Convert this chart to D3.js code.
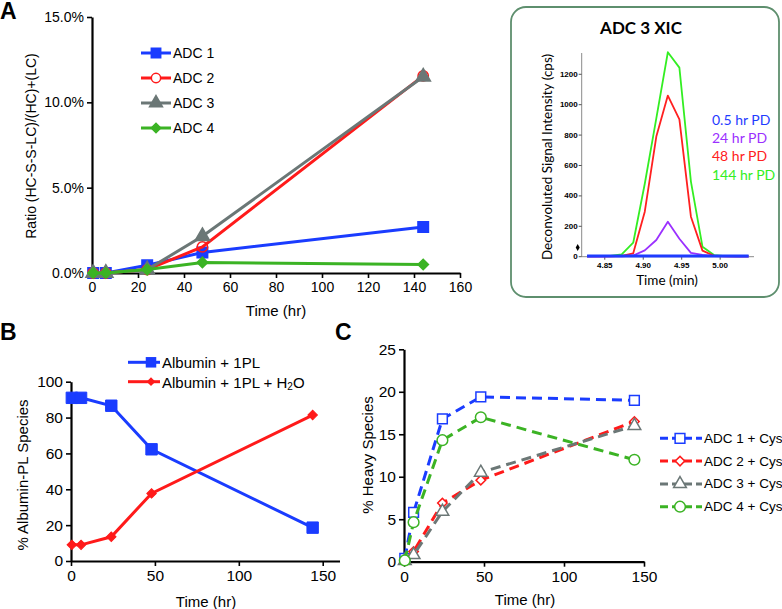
<!DOCTYPE html>
<html>
<head>
<meta charset="utf-8">
<script src="https://cdn.jsdelivr.net/npm/d3@7"></script>
<style>
html,body{margin:0;padding:0;background:#fff;}
svg{display:block;}
text{font-family:"Liberation Sans",Arial,sans-serif;fill:#000;}
</style>
</head>
<body>
<svg id="chart" width="782" height="609"></svg>
<script>
// ---------- Data ----------
// Panel A
const timesA = [0.5, 6, 24, 48, 144];
const adc1A = [0, 0, 0.0045, 0.012, 0.027];
const adc2A = [0, 0, 0.002, 0.0153, 0.1155];
const adc3A = [0, 0, 0.002, 0.0215, 0.115];
const adc4A = [0, 0, 0.002, 0.0062, 0.005];
const seriesNamesA = ["ADC 1", "ADC 2", "ADC 3", "ADC 4"];
const xTicksA = [0, 20, 40, 60, 80, 100, 120, 140, 160];
const yTicksA = [0, 0.05, 0.10, 0.15];

// Inset (ADC 3 XIC)
const xicTime = [4.827, 4.842, 4.857, 4.872, 4.887, 4.902, 4.917, 4.932, 4.947, 4.962, 4.977, 4.992, 5.007, 5.022, 5.037];
const pd05  = [4, 4, 4, 4, 4, 5, 5, 5, 5, 4, 4, 4, 4, 4, 4];
const pd24  = [1, 1, 2, 3, 8, 42, 110, 230, 118, 25, 12, 4, 2, 1, 1];
const pd48  = [2, 2, 3, 6, 22, 296, 790, 1060, 904, 263, 40, 6, 3, 2, 2];
const pd144 = [3, 4, 6, 15, 92, 480, 910, 1345, 1244, 494, 66, 11, 4, 3, 3];
const xicNames = ["0.5 hr PD", "24 hr PD", "48 hr PD", "144 hr PD"];
const xTicksXic = [4.85, 4.90, 4.95, 5.00];
const yTicksXic = [0, 200, 400, 600, 800, 1000, 1200];

// Panel B
const timesB = [0.5, 6, 24, 48, 144];
const alb1PL = [91, 91, 86.6, 62.3, 18.6];
const alb1PLH2O = [9, 9, 13.5, 37.7, 81.4];
const xTicksB = [0, 50, 100, 150];
const yTicksB = [0, 20, 40, 60, 80, 100];

// Panel C
const timesC = [0.5, 6, 24, 48, 144];
const adc1C = [0.4, 5.8, 16.8, 19.4, 19.0];
const adc2C = [0.2, 1.2, 6.9, 9.6, 16.5];
const adc3C = [0.1, 0.8, 5.9, 10.5, 16.0];
const adc4C = [0.15, 4.65, 14.3, 17.0, 12.0];
const seriesNamesC = ["ADC 1 + Cys", "ADC 2 + Cys", "ADC 3 + Cys", "ADC 4 + Cys"];
const xTicksC = [0, 50, 100, 150];
const yTicksC = [0, 5, 10, 15, 20, 25];

// ---------- Styles ----------
const BLUE = "#1a3cff", RED = "#ff1a1a", GRAY = "#6b7776", GREEN = "#3bb324";
const XBLUE = "#1f3cff", XPURPLE = "#9b30ff", XRED = "#ff2020", XGREEN = "#33ee22";
const CAL = "Lato,'Open Sans',sans-serif";

const svg = d3.select("#chart");

function drawAxes(g, x, y, xt, yt, xfmt, yfmt, fs) {
  const xa = g.append("g").attr("transform", `translate(0,${y.range()[0]})`)
    .call(d3.axisBottom(x).tickValues(xt).tickFormat(xfmt).tickSize(5).tickSizeOuter(0));
  const ya = g.append("g").attr("transform", `translate(${x.range()[0]},0)`)
    .call(d3.axisLeft(y).tickValues(yt).tickFormat(yfmt).tickSize(5).tickSizeOuter(0));
  [xa, ya].forEach(a => {
    a.attr("font-family", null);
    a.select(".domain").attr("stroke", "#000").attr("stroke-width", 2.2);
    a.selectAll(".tick line").attr("stroke", "#000").attr("stroke-width", 1.6);
    a.selectAll("text").style("font-family", '"Liberation Sans",Arial,sans-serif')
      .style("font-size", fs + "px").attr("fill", "#000");
  });
  xa.selectAll("text").attr("dy", "0.9em").attr("y", 6);
  ya.selectAll("text").attr("x", -8);
  return [xa, ya];
}

// ================= Panel A =================
{
  const g = svg.append("g");
  const x = d3.scaleLinear().domain([0, 160]).range([92, 460]);
  const y = d3.scaleLinear().domain([0, 0.15]).range([273, 17]);
  drawAxes(g, x, y, xTicksA, yTicksA, d3.format("d"), d3.format(".1%"), 14);
  g.append("text").attr("x", 0).attr("y", 19).style("font-size", "23px").style("font-weight", "bold").text("A");
  g.append("text").attr("transform", "translate(31,146) rotate(-90)").attr("text-anchor", "middle")
    .attr("dominant-baseline", "central").style("font-size", "14px").text("Ratio (HC-S-S-LC)/(HC)+(LC)");
  g.append("text").attr("x", 276).attr("y", 310).attr("text-anchor", "middle")
    .attr("dominant-baseline", "central").style("font-size", "15px").text("Time (hr)");

  const series = [
    {vals: adc1A, color: BLUE, type: d3.symbolSquare, size: 110, fill: BLUE},
    {vals: adc2A, color: RED, type: d3.symbolCircle, size: 85, fill: "none"},
    {vals: adc3A, color: GRAY, type: d3.symbolTriangle, size: 90, fill: GRAY},
    {vals: adc4A, color: GREEN, type: d3.symbolSquare, size: 55, fill: GREEN, rot: 45}
  ];
  const line = d3.line().x((d, i) => x(timesA[i])).y(d => y(d));
  series.forEach(s => {
    g.append("path").datum(s.vals).attr("d", line).attr("fill", "none")
      .attr("stroke", s.color).attr("stroke-width", 3);
    g.selectAll(null).data(s.vals).enter().append("path")
      .attr("d", d3.symbol().type(s.type).size(s.size))
      .attr("transform", (d, i) => `translate(${x(timesA[i])},${y(d)}) rotate(${s.rot || 0})`)
      .attr("fill", s.fill).attr("stroke", s.color).attr("stroke-width", 1.5);
  });
  const ly = d3.scalePoint().domain(seriesNamesA).range([53, 128]);
  series.forEach((s, k) => {
    const yy = ly(seriesNamesA[k]);
    g.append("line").attr("x1", 141).attr("x2", 171).attr("y1", yy).attr("y2", yy)
      .attr("stroke", s.color).attr("stroke-width", 3);
    g.append("path").attr("d", d3.symbol().type(s.type).size(s.size * 0.8))
      .attr("transform", `translate(156,${yy}) rotate(${s.rot || 0})`)
      .attr("fill", s.fill === "none" ? "#fff" : s.fill).attr("stroke", s.color).attr("stroke-width", 1.5);
    g.append("text").attr("x", 173).attr("y", yy).attr("dominant-baseline", "central")
      .style("font-size", "14px").text(seriesNamesA[k]);
  });
}

// ================= Inset =================
{
  const g = svg.append("g");
  g.append("rect").attr("x", 511).attr("y", 7).attr("width", 268).attr("height", 290)
    .attr("rx", 15).attr("ry", 15).attr("fill", "#fff").attr("stroke", "#5e8f6e").attr("stroke-width", 1.8);
  g.append("text").attr("x", 641).attr("y", 27).attr("text-anchor", "middle")
    .attr("dominant-baseline", "central").style("font-size", "17px").style("font-weight", "bold")
    .style("font-family", CAL).text("ADC 3 XIC");
  const x = d3.scaleLinear().domain([4.82, 5.044]).range([581.7, 754]);
  const y = d3.scaleLinear().domain([0, 1340]).range([256.7, 53]);
  g.append("line").attr("x1", x.range()[0]).attr("x2", x.range()[0]).attr("y1", y(0)).attr("y2", y(1340))
    .attr("stroke", "#8a8a8a").attr("stroke-width", 1);
  g.append("line").attr("x1", x.range()[0]).attr("x2", x.range()[1]).attr("y1", y(0)).attr("y2", y(0))
    .attr("stroke", "#8a8a8a").attr("stroke-width", 1);
  yTicksXic.forEach(t => {
    g.append("line").attr("x1", x.range()[0] - 3).attr("x2", x.range()[0]).attr("y1", y(t)).attr("y2", y(t))
      .attr("stroke", "#555").attr("stroke-width", 1);
    g.append("text").attr("x", x.range()[0] - 4).attr("y", y(t)).attr("text-anchor", "end")
      .attr("dominant-baseline", "central").style("font-size", "8px").style("font-weight", "bold")
      .text(d3.format("d")(t));
  });
  xTicksXic.forEach(t => {
    g.append("line").attr("x1", x(t)).attr("x2", x(t)).attr("y1", y(0)).attr("y2", y(0) + 3)
      .attr("stroke", "#555").attr("stroke-width", 1);
    g.append("text").attr("x", x(t)).attr("y", y(0) + 9).attr("text-anchor", "middle")
      .attr("dominant-baseline", "central").style("font-size", "8px").style("font-weight", "bold")
      .text(d3.format(".2f")(t));
  });
  g.append("path").attr("d", d3.symbol().type(d3.symbolDiamond).size(14))
    .attr("transform", `translate(${x.range()[0] - 4},${y(60)})`).attr("fill", "#000");
  g.append("text").attr("transform", "translate(547,157) rotate(-90)").attr("text-anchor", "middle")
    .attr("dominant-baseline", "central").style("font-family", CAL)
    .style("font-size", "13.5px").text("Deconvoluted Signal Intensity (cps)");
  g.append("text").attr("x", 667).attr("y", 280).attr("text-anchor", "middle")
    .attr("dominant-baseline", "central").style("font-family", CAL)
    .style("font-size", "13.5px").text("Time (min)");
  const line = d3.line().x((d, i) => x(xicTime[i])).y(d => y(d));
  const xs = [
    {vals: pd144, color: XGREEN, w: 1.8},
    {vals: pd48, color: XRED, w: 1.8},
    {vals: pd24, color: XPURPLE, w: 1.8},
    {vals: pd05, color: XBLUE, w: 3}
  ];
  xs.forEach(s => {
    g.append("path").datum(s.vals).attr("d", line).attr("fill", "none")
      .attr("stroke", s.color).attr("stroke-width", s.w).attr("stroke-linejoin", "round");
  });
  const legColors = [XBLUE, XPURPLE, XRED, XGREEN];
  const ly = d3.scalePoint().domain(xicNames).range([119, 174]);
  xicNames.forEach((n, k) => {
    g.append("text").attr("x", 712).attr("y", ly(n)).attr("dominant-baseline", "central")
      .style("font-family", CAL).style("font-size", "14px")
      .style("fill", legColors[k]).text(n);
  });
}

// ================= Panel B =================
{
  const g = svg.append("g");
  const x = d3.scaleLinear().domain([0, 160]).range([71, 339.5]);
  const y = d3.scaleLinear().domain([0, 100]).range([561, 381.7]);
  drawAxes(g, x, y, xTicksB, yTicksB, d3.format("d"), d3.format("d"), 15.5);
  g.append("text").attr("x", 0).attr("y", 340).style("font-size", "23px").style("font-weight", "bold").text("B");
  g.append("text").attr("transform", "translate(22,475) rotate(-90)").attr("text-anchor", "middle")
    .attr("dominant-baseline", "central").style("font-size", "15px").text("% Albumin-PL Species");
  g.append("text").attr("x", 206).attr("y", 601).attr("text-anchor", "middle")
    .attr("dominant-baseline", "central").style("font-size", "15px").text("Time (hr)");
  const line = d3.line().x((d, i) => x(timesB[i])).y(d => y(d));
  const series = [
    {vals: alb1PL, color: BLUE, type: d3.symbolSquare, size: 130, rot: 0},
    {vals: alb1PLH2O, color: RED, type: d3.symbolSquare, size: 45, rot: 45}
  ];
  series.forEach(s => {
    g.append("path").datum(s.vals).attr("d", line).attr("fill", "none")
      .attr("stroke", s.color).attr("stroke-width", 3);
    g.selectAll(null).data(s.vals).enter().append("path")
      .attr("d", d3.symbol().type(s.type).size(s.size))
      .attr("transform", (d, i) => `translate(${x(timesB[i])},${y(d)}) rotate(${s.rot})`)
      .attr("fill", s.color).attr("stroke", s.color).attr("stroke-width", 1);
  });
  const legY = [362.3, 381.7];
  series.forEach((s, k) => {
    g.append("line").attr("x1", 128).attr("x2", 160).attr("y1", legY[k]).attr("y2", legY[k])
      .attr("stroke", s.color).attr("stroke-width", 3);
    g.append("path").attr("d", d3.symbol().type(s.type).size(s.size * 0.85))
      .attr("transform", `translate(151,${legY[k]}) rotate(${s.rot})`).attr("fill", s.color);
  });
  g.append("text").attr("x", 162).attr("y", legY[0]).attr("dominant-baseline", "central")
    .style("font-size", "15px").text("Albumin + 1PL");
  const t2 = g.append("text").attr("x", 162).attr("y", legY[1]).attr("dominant-baseline", "central")
    .style("font-size", "15px");
  t2.append("tspan").text("Albumin + 1PL + H");
  t2.append("tspan").attr("dy", 4).style("font-size", "10px").text("2");
  t2.append("tspan").attr("dy", -4).text("O");
}

// ================= Panel C =================
{
  const g = svg.append("g");
  const x = d3.scaleLinear().domain([0, 150]).range([404, 644]);
  const y = d3.scaleLinear().domain([0, 25]).range([561.7, 349.3]);
  drawAxes(g, x, y, xTicksC, yTicksC, d3.format("d"), d3.format("d"), 15.5);
  g.append("text").attr("x", 335).attr("y", 340).style("font-size", "23px").style("font-weight", "bold").text("C");
  g.append("text").attr("transform", "translate(367,455) rotate(-90)").attr("text-anchor", "middle")
    .attr("dominant-baseline", "central").style("font-size", "15px").text("% Heavy Species");
  g.append("text").attr("x", 525).attr("y", 599).attr("text-anchor", "middle")
    .attr("dominant-baseline", "central").style("font-size", "15px").text("Time (hr)");
  const line = d3.line().x((d, i) => x(timesC[i])).y(d => y(d));
  const series = [
    {vals: adc1C, color: BLUE, type: d3.symbolSquare, size: 95, rot: 0},
    {vals: adc2C, color: RED, type: d3.symbolSquare, size: 45, rot: 45},
    {vals: adc3C, color: GRAY, type: d3.symbolTriangle, size: 70, rot: 0},
    {vals: adc4C, color: GREEN, type: d3.symbolCircle, size: 90, rot: 0}
  ];
  series.forEach(s => {
    g.append("path").datum(s.vals).attr("d", line).attr("fill", "none")
      .attr("stroke", s.color).attr("stroke-width", 3).attr("stroke-dasharray", "10,6");
    g.selectAll(null).data(s.vals).enter().append("path")
      .attr("d", d3.symbol().type(s.type).size(s.size))
      .attr("transform", (d, i) => `translate(${x(timesC[i])},${y(d)}) rotate(${s.rot})`)
      .attr("fill", "#fff").attr("stroke", s.color).attr("stroke-width", 1.5);
  });
  const ly = d3.scalePoint().domain(seriesNamesC).range([438.3, 506.7]);
  series.forEach((s, k) => {
    const yy = ly(seriesNamesC[k]);
    g.append("line").attr("x1", 660).attr("x2", 702).attr("y1", yy).attr("y2", yy)
      .attr("stroke", s.color).attr("stroke-width", 3).attr("stroke-dasharray", "8,4");
    g.append("path").attr("d", d3.symbol().type(s.type).size(s.size))
      .attr("transform", `translate(680,${yy}) rotate(${s.rot})`)
      .attr("fill", "#fff").attr("stroke", s.color).attr("stroke-width", 1.5);
    g.append("text").attr("x", 704).attr("y", yy).attr("dominant-baseline", "central")
      .style("font-size", "13.5px").text(seriesNamesC[k]);
  });
}
</script>
</body>
</html>
